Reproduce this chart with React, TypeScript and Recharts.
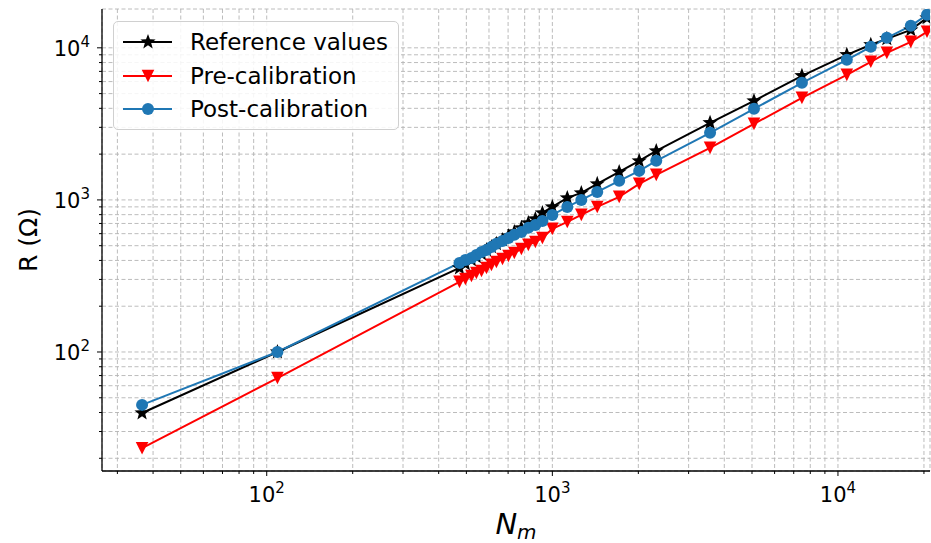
import React from "react"
import { LineChart, Line, XAxis, YAxis, CartesianGrid, Legend } from "recharts"

// N_m values shared by all three series
const nm = [
  36.6, 109, 473, 496, 521, 542, 565, 588, 612, 637, 669, 702, 736, 779, 824, 872, 923,
  1000, 1128, 1263, 1436, 1714, 2014, 2311, 3566, 5081, 7478, 10740, 13030, 14830, 17990, 20500,
]

// resistance in ohms
const reference = [
  39.7, 100, 357, 379, 403, 422, 441, 469, 491, 514, 546, 580, 616, 655, 706, 750, 821,
  899, 1031, 1112, 1275, 1528, 1806, 2099, 3212, 4478, 6545, 8995, 10470, 11460, 13120, 15740,
]
const preCalibration = [
  23.3, 67.4, 289, 302, 316, 331, 341, 357, 374, 391, 409, 428, 448, 476, 506, 529, 562,
  645, 716, 797, 899, 1047, 1274, 1460, 2198, 3162, 4690, 6640, 8090, 9270, 10950, 12750,
]
const postCalibration = [
  44.9, 100, 385, 403, 415, 435, 455, 469, 491, 514, 537, 562, 589, 616, 655, 685, 727,
  797, 899, 1000, 1129, 1334, 1552, 1806, 2760, 3970, 5886, 8340, 10160, 11640, 13960, 16480,
]

const xTicks = [
  30, 40, 50, 60, 70, 80, 90, 100, 200, 300, 400, 500, 600, 700, 800, 900,
  1000, 2000, 3000, 4000, 5000, 6000, 7000, 8000, 9000, 10000, 20000,
]
const yTicks = [
  20, 30, 40, 50, 60, 70, 80, 90, 100, 200, 300, 400, 500, 600, 700, 800, 900,
  1000, 2000, 3000, 4000, 5000, 6000, 7000, 8000, 9000, 10000,
]
const majorExp: Record<number, string> = { 100: "2", 1000: "3", 10000: "4" }

const data = nm.map((n, i) => ({
  n,
  reference: reference[i],
  pre: preCalibration[i],
  post: postCalibration[i],
}))

const FONT = "DejaVu Sans, sans-serif"
const BLUE = "#1f77b4"

function Star({ cx, cy, r = 8, fill = "#000" }: any) {
  const pts: string[] = []
  for (let k = 0; k < 10; k++) {
    const rad = k % 2 === 0 ? r : r * 0.42
    const a = -Math.PI / 2 + (k * Math.PI) / 5
    pts.push(`${cx + rad * Math.cos(a)},${cy + rad * Math.sin(a)}`)
  }
  return <polygon points={pts.join(" ")} fill={fill} />
}

function TriDown({ cx, cy, s = 6.3, fill = "red" }: any) {
  return <polygon points={`${cx - s},${cy - s} ${cx + s},${cy - s} ${cx},${cy + s}`} fill={fill} />
}

function Dot({ cx, cy, r = 6, fill = BLUE }: any) {
  return <circle cx={cx} cy={cy} r={r} fill={fill} />
}

function XTick({ x, y, payload }: any) {
  const exp = majorExp[payload.value]
  return (
    <g>
      <line x1={x} x2={x} y1={y} y2={y + (exp ? 5 : 3)} stroke="#000" strokeWidth={1} />
      {exp && (
        <text x={x} y={y + 31} textAnchor="middle" fontFamily={FONT} fontSize={21} fill="#000">
          10
          <tspan dy={-9} fontSize={15}>{exp}</tspan>
        </text>
      )}
    </g>
  )
}

function YTick({ x, y, payload }: any) {
  const exp = majorExp[payload.value]
  return (
    <g>
      <line x1={x} x2={x - (exp ? 5 : 3)} y1={y} y2={y} stroke="#000" strokeWidth={1} />
      {exp && (
        <text x={x - 12} y={y + 8} textAnchor="end" fontFamily={FONT} fontSize={21} fill="#000">
          10
          <tspan dy={-9} fontSize={15}>{exp}</tspan>
        </text>
      )}
    </g>
  )
}

const legendItems = [
  { name: "Reference values", color: "#000", marker: (cx: number, cy: number) => <Star cx={cx} cy={cy} /> },
  { name: "Pre-calibration", color: "red", marker: (cx: number, cy: number) => <TriDown cx={cx} cy={cy} /> },
  { name: "Post-calibration", color: BLUE, marker: (cx: number, cy: number) => <Dot cx={cx} cy={cy} /> },
]

function LegendBox() {
  return (
    <div
      style={{
        position: "relative",
        width: 286,
        height: 109,
        boxSizing: "border-box",
        border: "1px solid #d0d0d0",
        borderRadius: 5,
        background: "rgba(255,255,255,0.85)",
      }}
    >
      {legendItems.map((it, i) => (
        <div key={it.name} style={{ position: "absolute", left: 0, top: 4 + i * 33.5, height: 32, width: 286 }}>
          <svg width={70} height={32} style={{ position: "absolute", left: 0, top: 0 }}>
            <line x1={9} x2={58} y1={16} y2={16} stroke={it.color} strokeWidth={2} />
            {it.marker(34, 16)}
          </svg>
          <span
            style={{
              position: "absolute",
              left: 76,
              top: 0,
              lineHeight: "32px",
              fontFamily: FONT,
              fontSize: 23,
              color: "#000",
              whiteSpace: "nowrap",
            }}
          >
            {it.name}
          </span>
        </div>
      ))}
    </div>
  )
}

function YLabel({ viewBox }: any) {
  const cx = 28
  const cy = viewBox.y + viewBox.height / 2
  return (
    <text x={cx} y={cy} transform={`rotate(-90, ${cx}, ${cy})`} textAnchor="middle" dominantBaseline="central" fontFamily={FONT} fontSize={25} fill="#000">
      R (Ω)
    </text>
  )
}

function XLabel({ viewBox }: any) {
  const cx = viewBox.x + viewBox.width / 2
  return (
    <text x={cx} y={viewBox.y + 63} textAnchor="middle" fontFamily={FONT} fontStyle="italic" fontSize={29} fill="#000">
      N
      <tspan dy={4.5} fontSize={20}>m</tspan>
    </text>
  )
}

export default function App() {
  return (
    <div style={{ position: "absolute", left: 0, top: 0, width: 931, height: 543, background: "#fff" }}>
      <LineChart width={931} height={543} data={data} margin={{ top: 9, right: 1, bottom: 0, left: 0 }}>
        <CartesianGrid stroke="#b4b4b4" strokeDasharray="4 2.5" strokeWidth={0.9} />
        <XAxis
          dataKey="n"
          type="number"
          scale="log"
          domain={[26.5, 21000]}
          allowDataOverflow
          ticks={xTicks}
          interval={0}
          height={72}
          tickLine={false}
          tickSize={0}
          tickMargin={0}
          tick={<XTick />}
          axisLine={{ stroke: "#000", strokeWidth: 1.3 }}
          label={<XLabel />}
        />
        <YAxis
          type="number"
          scale="log"
          domain={[16.5, 18000]}
          allowDataOverflow
          ticks={yTicks}
          interval={0}
          width={102}
          tickLine={false}
          tickSize={0}
          tickMargin={0}
          tick={<YTick />}
          axisLine={{ stroke: "#000", strokeWidth: 1.3 }}
          label={<YLabel />}
        />
        <XAxis xAxisId="top" orientation="top" height={0} tick={false} axisLine={{ stroke: "#000", strokeWidth: 1.3 }} />
        <YAxis yAxisId="right" orientation="right" width={0} tick={false} axisLine={{ stroke: "#000", strokeWidth: 1.3 }} />
        <Legend
          layout="vertical"
          align="center"
          verticalAlign="middle"
          wrapperStyle={{ left: 113, top: 21, width: 286 }}
          content={() => <LegendBox />}
        />
        <Line
          dataKey="reference"
          name="Reference values"
          stroke="#000"
          strokeWidth={2}
          isAnimationActive={false}
          dot={(p: any) => <Star key={`r${p.index}`} cx={p.cx} cy={p.cy} />}
        />
        <Line
          dataKey="pre"
          name="Pre-calibration"
          stroke="red"
          strokeWidth={2}
          isAnimationActive={false}
          dot={(p: any) => <TriDown key={`p${p.index}`} cx={p.cx} cy={p.cy} />}
        />
        <Line
          dataKey="post"
          name="Post-calibration"
          stroke={BLUE}
          strokeWidth={2}
          isAnimationActive={false}
          dot={(p: any) => <Dot key={`q${p.index}`} cx={p.cx} cy={p.cy} />}
        />
      </LineChart>
    </div>
  )
}
